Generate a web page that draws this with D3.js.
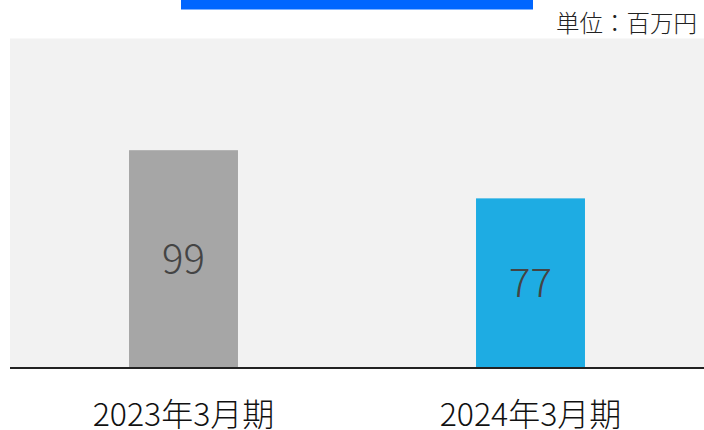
<!DOCTYPE html>
<html>
<head>
<meta charset="utf-8">
<script src="https://cdn.jsdelivr.net/npm/d3@7"></script>
<style>
  html, body { margin: 0; padding: 0; background: #ffffff; }
  svg { display: block; }
  text { font-family: "Noto Sans CJK JP", "Noto Sans", sans-serif; }
</style>
</head>
<body>
<svg id="chart" width="704" height="430"></svg>
<script>
const categories = ["2023年3月期", "2024年3月期"];
const values = [99, 77];
const barColors = ["#a6a6a6", "#1eace3"];
const unitLabel = "単位：百万円";

const W = 704, H = 430;
const svg = d3.select("#chart");

const x = d3.scaleBand()
  .domain(categories)
  .range([10, 704])
  .paddingInner(0.686)
  .paddingOuter(0.343);

const y = d3.scaleLinear()
  .domain([0, 150])
  .range([367, 38.5]);

// top accent bar
svg.append("rect")
  .attr("x", 181).attr("y", 0)
  .attr("width", 352).attr("height", 9.5)
  .attr("fill", "#0066ff");

// unit label
svg.append("text")
  .attr("x", 697).attr("y", 32)
  .attr("text-anchor", "end")
  .attr("font-size", 23.5)
  .attr("font-weight", 300)
  .attr("fill", "#222")
  .text(unitLabel);

// plot background
svg.append("rect")
  .attr("x", 10).attr("y", y(150))
  .attr("width", 694).attr("height", y(0) - y(150))
  .attr("fill", "#f2f2f2");

// bars
svg.selectAll("rect.bar")
  .data(values)
  .join("rect")
  .attr("class", "bar")
  .attr("x", (d, i) => x(categories[i]))
  .attr("y", d => y(d))
  .attr("width", x.bandwidth())
  .attr("height", d => y(0) - y(d))
  .attr("fill", (d, i) => barColors[i]);

// value labels
svg.selectAll("text.val")
  .data(values)
  .join("text")
  .attr("class", "val")
  .attr("x", (d, i) => x(categories[i]) + x.bandwidth() / 2)
  .attr("y", d => (y(d) + y(0)) / 2 + 14)
  .attr("text-anchor", "middle")
  .attr("font-size", 40)
  .attr("font-weight", 300)
  .attr("fill", "#444")
  .text(d => d);

// x axis
const xAxis = svg.append("g")
  .attr("transform", `translate(0,${y(0)})`)
  .call(d3.axisBottom(x).tickSize(0).tickPadding(0));
xAxis.select(".domain").remove();
xAxis.append("line")
  .attr("x1", 10).attr("x2", 704)
  .attr("y1", 1).attr("y2", 1)
  .attr("stroke", "#222").attr("stroke-width", 2);
xAxis.selectAll(".tick text")
  .attr("y", 58.5)
  .attr("dy", 0)
  .attr("font-size", 32)
  .attr("font-weight", 300)
  .attr("fill", "#111");
</script>
</body>
</html>
